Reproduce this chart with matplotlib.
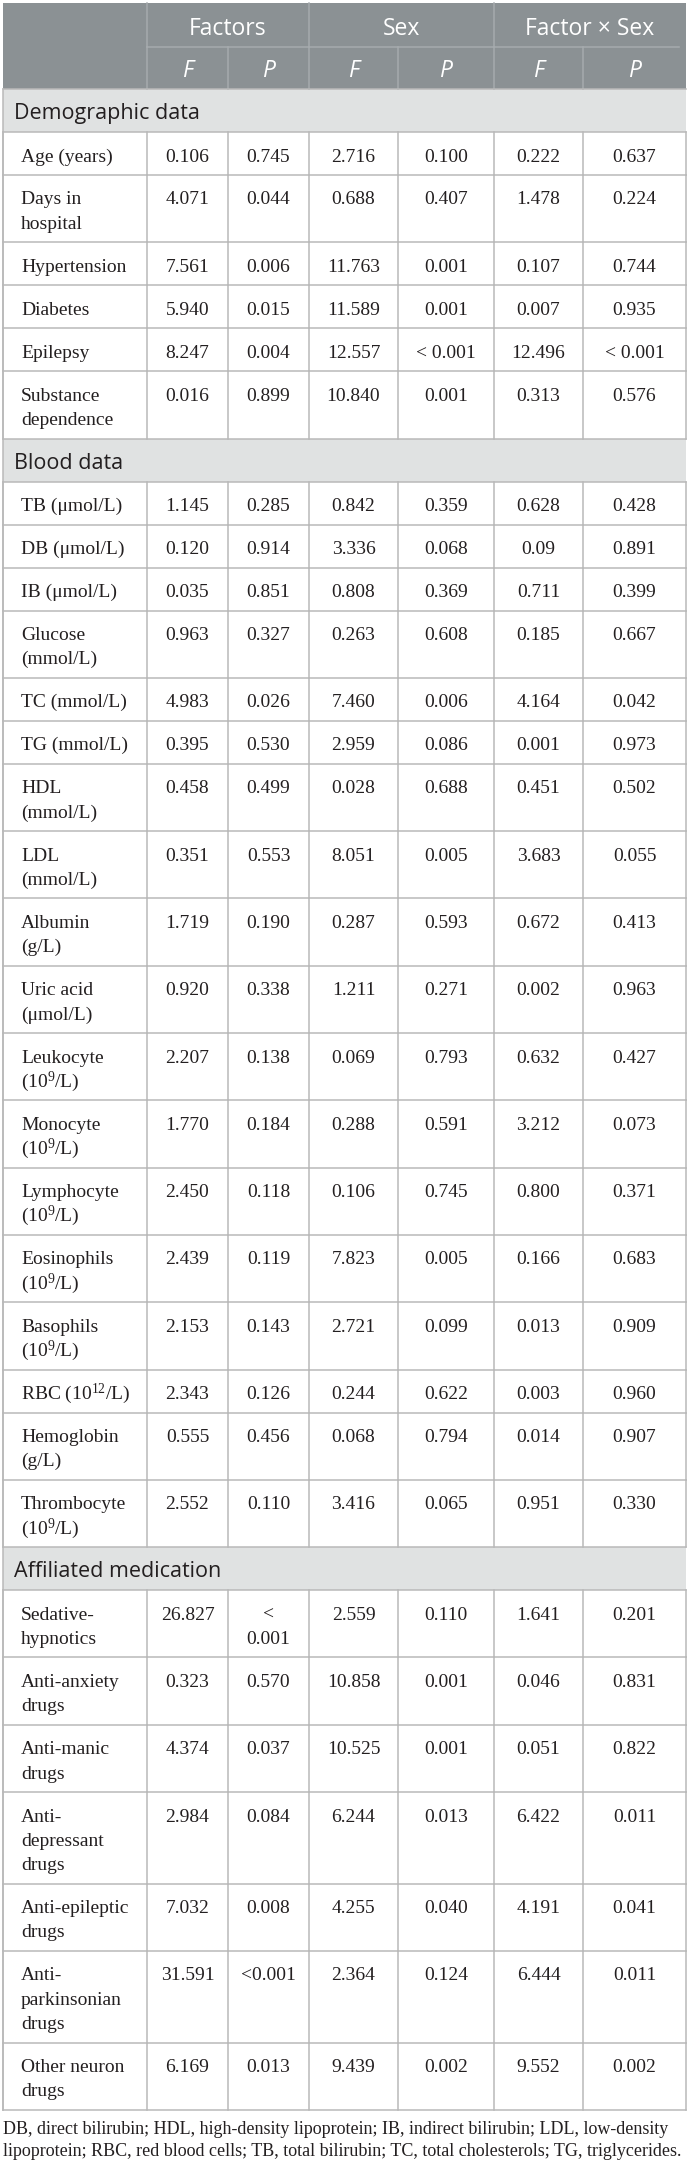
import matplotlib
matplotlib.use("Agg")
import matplotlib.pyplot as plt
from matplotlib.patches import Rectangle

plt.rcParams["mathtext.fontset"] = "custom"
plt.rcParams["mathtext.rm"] = "Liberation Serif"
plt.rcParams["mathtext.it"] = "Liberation Serif:italic"
plt.rcParams["mathtext.default"] = "rm"

# ---- table data ----
groups = ["Factors", "Sex", "Factor \u00d7 Sex"]
sub_heads = ["F", "P", "F", "P", "F", "P"]

sections = ["Demographic data", "Blood data", "Affiliated medication"]
section_sizes = [6, 18, 7]

row_labels = [
    "Age (years)", "Days in\nhospital", "Hypertension", "Diabetes", "Epilepsy",
    "Substance\ndependence",
    "TB (\u03bcmol/L)", "DB (\u03bcmol/L)", "IB (\u03bcmol/L)", "Glucose\n(mmol/L)",
    "TC (mmol/L)", "TG (mmol/L)", "HDL\n(mmol/L)", "LDL\n(mmol/L)", "Albumin\n(g/L)",
    "Uric acid\n(\u03bcmol/L)", "Leukocyte\n(10$^{9}$/L)", "Monocyte\n(10$^{9}$/L)",
    "Lymphocyte\n(10$^{9}$/L)", "Eosinophils\n(10$^{9}$/L)", "Basophils\n(10$^{9}$/L)",
    "RBC (10$^{12}$/L)", "Hemoglobin\n(g/L)", "Thrombocyte\n(10$^{9}$/L)",
    "Sedative-\nhypnotics", "Anti-anxiety\ndrugs", "Anti-manic\ndrugs",
    "Anti-\ndepressant\ndrugs", "Anti-epileptic\ndrugs", "Anti-\nparkinsonian\ndrugs",
    "Other neuron\ndrugs",
]

factor_f = ["0.106", "4.071", "7.561", "5.940", "8.247", "0.016",
            "1.145", "0.120", "0.035", "0.963", "4.983", "0.395", "0.458", "0.351",
            "1.719", "0.920", "2.207", "1.770", "2.450", "2.439", "2.153", "2.343",
            "0.555", "2.552",
            "26.827", "0.323", "4.374", "2.984", "7.032", "31.591", "6.169"]
factor_p = ["0.745", "0.044", "0.006", "0.015", "0.004", "0.899",
            "0.285", "0.914", "0.851", "0.327", "0.026", "0.530", "0.499", "0.553",
            "0.190", "0.338", "0.138", "0.184", "0.118", "0.119", "0.143", "0.126",
            "0.456", "0.110",
            "<\n0.001", "0.570", "0.037", "0.084", "0.008", "<0.001", "0.013"]
sex_f = ["2.716", "0.688", "11.763", "11.589", "12.557", "10.840",
         "0.842", "3.336", "0.808", "0.263", "7.460", "2.959", "0.028", "8.051",
         "0.287", "1.211", "0.069", "0.288", "0.106", "7.823", "2.721", "0.244",
         "0.068", "3.416",
         "2.559", "10.858", "10.525", "6.244", "4.255", "2.364", "9.439"]
sex_p = ["0.100", "0.407", "0.001", "0.001", "< 0.001", "0.001",
         "0.359", "0.068", "0.369", "0.608", "0.006", "0.086", "0.688", "0.005",
         "0.593", "0.271", "0.793", "0.591", "0.745", "0.005", "0.099", "0.622",
         "0.794", "0.065",
         "0.110", "0.001", "0.001", "0.013", "0.040", "0.124", "0.002"]
fxs_f = ["0.222", "1.478", "0.107", "0.007", "12.496", "0.313",
         "0.628", "0.09", "0.711", "0.185", "4.164", "0.001", "0.451", "3.683",
         "0.672", "0.002", "0.632", "3.212", "0.800", "0.166", "0.013", "0.003",
         "0.014", "0.951",
         "1.641", "0.046", "0.051", "6.422", "4.191", "6.444", "9.552"]
fxs_p = ["0.637", "0.224", "0.744", "0.935", "< 0.001", "0.576",
         "0.428", "0.891", "0.399", "0.667", "0.042", "0.973", "0.502", "0.055",
         "0.413", "0.963", "0.427", "0.073", "0.371", "0.683", "0.909", "0.960",
         "0.907", "0.330",
         "0.201", "0.831", "0.822", "0.011", "0.041", "0.011", "0.002"]

footnote = ["DB, direct bilirubin; HDL, high-density lipoprotein; IB, indirect bilirubin; LDL, low-density",
            "lipoprotein; RBC, red blood cells; TB, total bilirubin; TC, total cholesterols; TG, triglycerides."]

# ---- layout (pixels) ----
W, H = 690, 2170
cols = [3, 147, 228, 309, 398, 494, 583, 686]
top = 3
head1, head2 = 47, 89
sec_h = 43
row_h1, line_step = 43, 24.3

head_bg = "#8b9194"
head_line = "#a6abae"
sec_bg = "#e0e2e2"
grid = "#b9b9b9"
txt = "#231f20"

serif = "Liberation Serif"
sans = "Open Sans"

fig = plt.figure(figsize=(W / 100, H / 100), dpi=100)
ax = fig.add_axes([0, 0, 1, 1])
ax.set_xlim(0, W)
ax.set_ylim(H, 0)
ax.axis("off")

# header
ax.add_patch(Rectangle((cols[0], top), cols[-1] - cols[0], head2 - top, color=head_bg, lw=0))
ax.plot([cols[1], 679], [head1, head1], color=head_line, lw=1.1)
for x in [cols[1], cols[3], cols[5]]:
    ax.plot([x, x], [top, head1], color=head_line, lw=1.1)
for x in cols[1:-1]:
    ax.plot([x, x], [head1, head2], color=head_line, lw=1.1)
for i, g in enumerate(groups):
    xc = (cols[1 + 2 * i] + cols[3 + 2 * i]) / 2
    ax.text(xc, 35, g, ha="center", va="baseline", family=sans, fontsize=16.5, color="white")
for i, s in enumerate(sub_heads):
    xc = (cols[1 + i] + cols[2 + i]) / 2
    ax.text(xc, 77, s, ha="center", va="baseline", family=sans, fontsize=16.5,
            style="italic", color="white")

values = [factor_f, factor_p, sex_f, sex_p, fxs_f, fxs_p]

y = head2
r = 0
for sec, n in zip(sections, section_sizes):
    ax.add_patch(Rectangle((cols[0], y), cols[-1] - cols[0], sec_h, color=sec_bg, lw=0))
    ax.text(14, y + 30, sec, ha="left", va="baseline", family=sans, fontsize=15.5, color=txt)
    ax.plot([cols[0], cols[-1]], [y, y], color=grid, lw=1.1)
    y += sec_h
    for k in range(n):
        cells = [row_labels[r]] + [v[r] for v in values]
        nl = max(c.count("\n") for c in cells) + 1
        h = row_h1 + line_step * (nl - 1)
        ax.plot([cols[0], cols[-1]], [y, y], color=grid, lw=1.1)
        for x in cols:
            ax.plot([x, x], [y, y + h], color=grid, lw=1.1)
        for j, c in enumerate(cells):
            for li, part in enumerate(c.split("\n")):
                yb = y + 29.5 + li * line_step
                if j == 0:
                    ax.text(21, yb, part, ha="left", va="baseline", family=serif,
                            fontsize=14, color=txt)
                else:
                    xc = (cols[j] + cols[j + 1]) / 2
                    ax.text(xc, yb, part, ha="center", va="baseline", family=serif,
                            fontsize=14, color=txt)
        y += h
        r += 1
ax.plot([cols[0], cols[-1]], [y, y], color=grid, lw=1.1)
ax.plot([cols[0], cols[0]], [head2, y], color=grid, lw=1.1)

for i, line in enumerate(footnote):
    ax.text(3, y + 24 + i * 22, line, ha="left", va="baseline", family=serif,
            fontsize=13, color=txt)

fig.savefig("out.png", dpi=100)
